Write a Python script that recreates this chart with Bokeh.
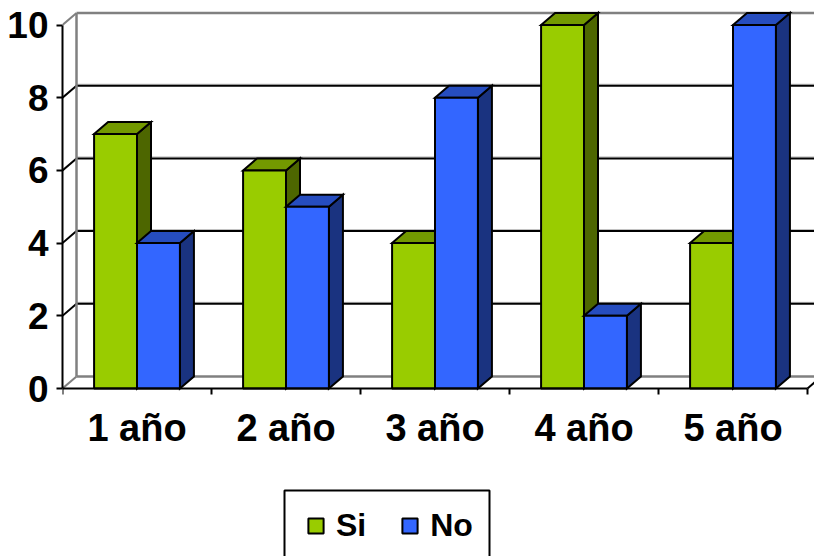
from bokeh.plotting import figure
from bokeh.models import BoxAnnotation, FixedTicker, Legend, LegendItem, Range1d
from bokeh.embed import file_html
from bokeh.resources import INLINE

categories = ["1 año", "2 año", "3 año", "4 año", "5 año"]
si = [7, 6, 4, 10, 4]
no = [4, 5, 8, 2, 10]
y_ticks = [0, 2, 4, 6, 8, 10]

# 3-D look: depth of the box in axis units, bar width in category units
DX = 0.094
DY = 0.33
BAR = 0.288
FONT = "Liberation Sans"

WIDTH, HEIGHT = 814, 556
LEFT = 62                 # frame left inside the figure
PX_X, PX_Y = 149.0, 36.35  # pixels per axis unit
ZERO_FROM_TOP = 388       # pixels from figure top to y = 0

positions = list(range(1, len(categories) + 1))
x0, x1 = 0.5, len(categories) + 0.5
x_end = x0 + (WIDTH - LEFT) / PX_X
y_end = ZERO_FROM_TOP / PX_Y
y_start = -(HEIGHT - ZERO_FROM_TOP) / PX_Y

p = figure(width=WIDTH, height=HEIGHT, output_backend="svg", toolbar_location=None,
           x_range=Range1d(x0, x_end), y_range=Range1d(y_start, y_end),
           min_border_left=LEFT, min_border_right=0, min_border_top=0,
           min_border_bottom=0, outline_line_color=None,
           background_fill_color="white", border_fill_color="white")
p.grid.visible = False

# walls
for v in y_ticks[1:-1]:
    p.line([x0 + DX, x_end], [v + DY + 0.04, v + DY + 0.04], line_color="#b8b8b8", line_width=1)
    p.line([x0 + DX, x_end], [v + DY, v + DY], line_color="black", line_width=2)
    p.line([x0, x0 + DX], [v, v + DY], line_color="black", line_width=2)
GRAY = "#808080"
p.line([x0 + DX, x0 + DX], [DY, 10 + DY], line_color=GRAY, line_width=2.5)
p.line([x0 + DX, x_end], [10 + DY, 10 + DY], line_color=GRAY, line_width=2.5)
p.line([x0 + DX, x_end], [DY, DY], line_color=GRAY, line_width=2.5)
p.line([x0, x0 + DX], [0, DY], line_color=GRAY, line_width=2)
p.line([x0, x0 + DX], [10, 10 + DY], line_color=GRAY, line_width=2)
p.line([x1, x1 + DX], [0, DY], line_color="black", line_width=2)


def bars(values, offset, front, top, side):
    lefts = [c + offset for c in positions]
    rights = [c + offset + BAR for c in positions]
    p.patches([[r, r + DX, r + DX, r] for r in rights],
              [[0, DY, v + DY, v] for v in values],
              fill_color=side, line_color="black", line_width=2, line_join="miter")
    p.patches([[l, r, r + DX, l + DX] for l, r in zip(lefts, rights)],
              [[v, v, v + DY, v + DY] for v in values],
              fill_color=top, line_color="black", line_width=2, line_join="miter")
    return p.vbar(x=[c + offset + BAR / 2 for c in positions], width=BAR, bottom=0, top=values,
                  fill_color=front, line_color="black", line_width=2)


r_si = bars(si, -BAR, "#99CC00", "#739900", "#4D6600")
r_no = bars(no, 0, "#3366FF", "#264DBF", "#1A3380")

# axes
ya = p.yaxis[0]
ya.ticker = FixedTicker(ticks=y_ticks)
ya.bounds = (0, 10)
ya.axis_line_color = "black"
ya.axis_line_width = 2
ya.major_tick_line_color = "black"
ya.major_tick_line_width = 2
ya.major_tick_out = 6
ya.major_tick_in = 0
ya.minor_tick_line_color = None
ya.major_label_text_font = FONT
ya.major_label_text_font_style = "bold"
ya.major_label_text_font_size = "37px"
ya.major_label_text_color = "black"
ya.major_label_standoff = 8

xa = p.xaxis[0]
xa.fixed_location = 0
xa.ticker = FixedTicker(ticks=positions, minor_ticks=[i + 0.5 for i in range(0, 6)])
xa.major_label_overrides = {c: t for c, t in zip(positions, categories)}
xa.bounds = (x0, x1)
xa.axis_line_color = "black"
xa.axis_line_width = 2
xa.major_tick_line_color = None
xa.major_tick_out = 0
xa.major_tick_in = 0
xa.minor_tick_line_color = "black"
xa.minor_tick_line_width = 2
xa.minor_tick_out = 6
xa.minor_tick_in = 0
xa.major_label_text_font = FONT
xa.major_label_text_font_style = "bold"
xa.major_label_text_font_size = "38px"
xa.major_label_text_color = "black"
xa.major_label_standoff = 12

p.add_layout(BoxAnnotation(left=222, right=427, top=66, bottom=-6,
                           left_units="screen", right_units="screen",
                           top_units="screen", bottom_units="screen",
                           fill_color="white", fill_alpha=1,
                           line_color="black", line_alpha=1, line_width=2, level="annotation"))

legend = Legend(
    items=[LegendItem(label="Si", renderers=[r_si]), LegendItem(label="No", renderers=[r_no])],
    orientation="horizontal", location=(244, 12), margin=0, padding=16,
    spacing=34, label_standoff=11, glyph_width=19, glyph_height=19,
    label_text_font=FONT, label_text_font_style="bold", label_text_font_size="32px",
    label_text_color="black", border_line_color=None,
    background_fill_alpha=0, label_height=30)
p.add_layout(legend, "center")

open("out.html", "w").write(file_html(p, INLINE))
